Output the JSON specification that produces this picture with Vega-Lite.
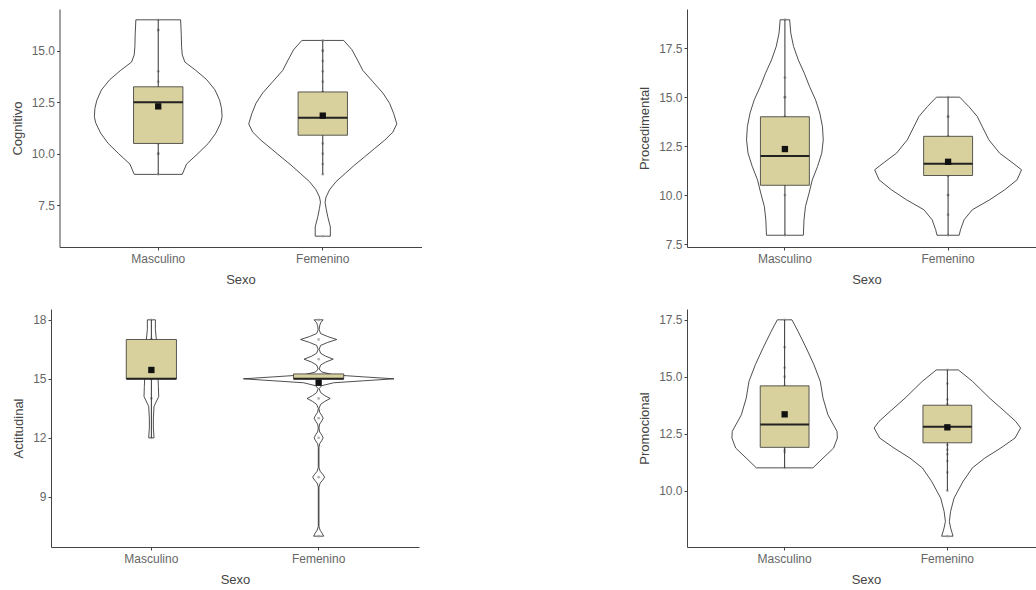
{
  "$schema": "https://vega.github.io/schema/vega-lite/v6.json",
  "padding": {"left": 11, "top": 9, "right": 0, "bottom": 0},
  "datasets": {
    "v_cog": [
      {"Sexo": "Masculino", "k": 0, "valor": 9.0, "densidad": 0},
      {"Sexo": "Masculino", "k": 1, "valor": 9.0, "densidad": 0.146},
      {"Sexo": "Masculino", "k": 2, "valor": 9.5, "densidad": 0.172},
      {"Sexo": "Masculino", "k": 3, "valor": 10.0, "densidad": 0.24},
      {"Sexo": "Masculino", "k": 4, "valor": 10.5, "densidad": 0.304},
      {"Sexo": "Masculino", "k": 5, "valor": 11.0, "densidad": 0.35},
      {"Sexo": "Masculino", "k": 6, "valor": 11.5, "densidad": 0.38},
      {"Sexo": "Masculino", "k": 7, "valor": 11.8, "densidad": 0.388},
      {"Sexo": "Masculino", "k": 8, "valor": 12.2, "densidad": 0.385},
      {"Sexo": "Masculino", "k": 9, "valor": 12.6, "densidad": 0.373},
      {"Sexo": "Masculino", "k": 10, "valor": 13.1, "densidad": 0.345},
      {"Sexo": "Masculino", "k": 11, "valor": 13.6, "densidad": 0.294},
      {"Sexo": "Masculino", "k": 12, "valor": 14.05, "densidad": 0.228},
      {"Sexo": "Masculino", "k": 13, "valor": 14.45, "densidad": 0.162},
      {"Sexo": "Masculino", "k": 14, "valor": 14.8, "densidad": 0.146},
      {"Sexo": "Masculino", "k": 15, "valor": 15.2, "densidad": 0.142},
      {"Sexo": "Masculino", "k": 16, "valor": 15.8, "densidad": 0.14},
      {"Sexo": "Masculino", "k": 17, "valor": 16.5, "densidad": 0.136},
      {"Sexo": "Masculino", "k": 18, "valor": 16.5, "densidad": 0},
      {"Sexo": "Femenino", "k": 0, "valor": 6.0, "densidad": 0},
      {"Sexo": "Femenino", "k": 1, "valor": 6.0, "densidad": 0.046},
      {"Sexo": "Femenino", "k": 2, "valor": 6.45, "densidad": 0.046},
      {"Sexo": "Femenino", "k": 3, "valor": 6.95, "densidad": 0.03},
      {"Sexo": "Femenino", "k": 4, "valor": 7.35, "densidad": 0.02},
      {"Sexo": "Femenino", "k": 5, "valor": 7.65, "densidad": 0.014},
      {"Sexo": "Femenino", "k": 6, "valor": 7.9, "densidad": 0.02},
      {"Sexo": "Femenino", "k": 7, "valor": 8.25, "densidad": 0.041},
      {"Sexo": "Femenino", "k": 8, "valor": 8.65, "densidad": 0.081},
      {"Sexo": "Femenino", "k": 9, "valor": 9.05, "densidad": 0.137},
      {"Sexo": "Femenino", "k": 10, "valor": 9.45, "densidad": 0.193},
      {"Sexo": "Femenino", "k": 11, "valor": 9.85, "densidad": 0.254},
      {"Sexo": "Femenino", "k": 12, "valor": 10.25, "densidad": 0.314},
      {"Sexo": "Femenino", "k": 13, "valor": 10.65, "densidad": 0.375},
      {"Sexo": "Femenino", "k": 14, "valor": 11.05, "densidad": 0.426},
      {"Sexo": "Femenino", "k": 15, "valor": 11.45, "densidad": 0.45},
      {"Sexo": "Femenino", "k": 16, "valor": 11.95, "densidad": 0.431},
      {"Sexo": "Femenino", "k": 17, "valor": 12.45, "densidad": 0.406},
      {"Sexo": "Femenino", "k": 18, "valor": 12.95, "densidad": 0.365},
      {"Sexo": "Femenino", "k": 19, "valor": 13.5, "densidad": 0.304},
      {"Sexo": "Femenino", "k": 20, "valor": 14.05, "densidad": 0.243},
      {"Sexo": "Femenino", "k": 21, "valor": 14.55, "densidad": 0.211},
      {"Sexo": "Femenino", "k": 22, "valor": 15.05, "densidad": 0.177},
      {"Sexo": "Femenino", "k": 23, "valor": 15.5, "densidad": 0.127},
      {"Sexo": "Femenino", "k": 24, "valor": 15.5, "densidad": 0}
    ],
    "b_cog": [
      {"Sexo": "Masculino", "inferior": 9.0, "q1": 10.5, "mediana": 12.5, "q3": 13.25, "superior": 16.5, "media": 12.3},
      {"Sexo": "Femenino", "inferior": 9.0, "q1": 10.9, "mediana": 11.75, "q3": 13.0, "superior": 15.5, "media": 11.85}
    ],
    "p_cog": [
      {"Sexo": "Masculino", "valor": 16.5}, {"Sexo": "Masculino", "valor": 16}, {"Sexo": "Masculino", "valor": 16},
      {"Sexo": "Masculino", "valor": 14}, {"Sexo": "Masculino", "valor": 13.5}, {"Sexo": "Masculino", "valor": 10.5},
      {"Sexo": "Masculino", "valor": 10}, {"Sexo": "Masculino", "valor": 10}, {"Sexo": "Masculino", "valor": 9},
      {"Sexo": "Femenino", "valor": 15.5}, {"Sexo": "Femenino", "valor": 15}, {"Sexo": "Femenino", "valor": 15},
      {"Sexo": "Femenino", "valor": 14.5}, {"Sexo": "Femenino", "valor": 14}, {"Sexo": "Femenino", "valor": 13.5},
      {"Sexo": "Femenino", "valor": 13}, {"Sexo": "Femenino", "valor": 10.5}, {"Sexo": "Femenino", "valor": 10},
      {"Sexo": "Femenino", "valor": 9.5}, {"Sexo": "Femenino", "valor": 9}, {"Sexo": "Femenino", "valor": 6}
    ],
    "v_proc": [
      {"Sexo": "Masculino", "k": 0, "valor": 7.95, "densidad": 0},
      {"Sexo": "Masculino", "k": 1, "valor": 7.95, "densidad": 0.113},
      {"Sexo": "Masculino", "k": 2, "valor": 8.74, "densidad": 0.117},
      {"Sexo": "Masculino", "k": 3, "valor": 9.42, "densidad": 0.126},
      {"Sexo": "Masculino", "k": 4, "valor": 10.1, "densidad": 0.148},
      {"Sexo": "Masculino", "k": 5, "valor": 10.78, "densidad": 0.168},
      {"Sexo": "Masculino", "k": 6, "valor": 11.46, "densidad": 0.2},
      {"Sexo": "Masculino", "k": 7, "valor": 12.14, "densidad": 0.226},
      {"Sexo": "Masculino", "k": 8, "valor": 12.82, "densidad": 0.235},
      {"Sexo": "Masculino", "k": 9, "valor": 13.5, "densidad": 0.23},
      {"Sexo": "Masculino", "k": 10, "valor": 14.18, "densidad": 0.214},
      {"Sexo": "Masculino", "k": 11, "valor": 14.86, "densidad": 0.188},
      {"Sexo": "Masculino", "k": 12, "valor": 15.54, "densidad": 0.151},
      {"Sexo": "Masculino", "k": 13, "valor": 16.22, "densidad": 0.119},
      {"Sexo": "Masculino", "k": 14, "valor": 16.9, "densidad": 0.082},
      {"Sexo": "Masculino", "k": 15, "valor": 17.59, "densidad": 0.053},
      {"Sexo": "Masculino", "k": 16, "valor": 18.27, "densidad": 0.036},
      {"Sexo": "Masculino", "k": 17, "valor": 18.95, "densidad": 0.029},
      {"Sexo": "Masculino", "k": 18, "valor": 18.95, "densidad": 0},
      {"Sexo": "Femenino", "k": 0, "valor": 7.95, "densidad": 0},
      {"Sexo": "Femenino", "k": 1, "valor": 7.95, "densidad": 0.068},
      {"Sexo": "Femenino", "k": 2, "valor": 8.23, "densidad": 0.076},
      {"Sexo": "Femenino", "k": 3, "valor": 8.74, "densidad": 0.098},
      {"Sexo": "Femenino", "k": 4, "valor": 9.25, "densidad": 0.148},
      {"Sexo": "Femenino", "k": 5, "valor": 9.76, "densidad": 0.255},
      {"Sexo": "Femenino", "k": 6, "valor": 10.27, "densidad": 0.347},
      {"Sexo": "Femenino", "k": 7, "valor": 10.78, "densidad": 0.423},
      {"Sexo": "Femenino", "k": 8, "valor": 11.29, "densidad": 0.45},
      {"Sexo": "Femenino", "k": 9, "valor": 11.63, "densidad": 0.398},
      {"Sexo": "Femenino", "k": 10, "valor": 12.14, "densidad": 0.316},
      {"Sexo": "Femenino", "k": 11, "valor": 12.82, "densidad": 0.25},
      {"Sexo": "Femenino", "k": 12, "valor": 13.5, "densidad": 0.209},
      {"Sexo": "Femenino", "k": 13, "valor": 14.01, "densidad": 0.179},
      {"Sexo": "Femenino", "k": 14, "valor": 14.52, "densidad": 0.127},
      {"Sexo": "Femenino", "k": 15, "valor": 15.0, "densidad": 0.071},
      {"Sexo": "Femenino", "k": 16, "valor": 15.0, "densidad": 0}
    ],
    "b_proc": [
      {"Sexo": "Masculino", "inferior": 7.95, "q1": 10.5, "mediana": 12.0, "q3": 14.0, "superior": 18.95, "media": 12.35},
      {"Sexo": "Femenino", "inferior": 7.95, "q1": 11.0, "mediana": 11.6, "q3": 13.0, "superior": 15.0, "media": 11.7}
    ],
    "p_proc": [
      {"Sexo": "Masculino", "valor": 18.95}, {"Sexo": "Masculino", "valor": 16}, {"Sexo": "Masculino", "valor": 15},
      {"Sexo": "Masculino", "valor": 15}, {"Sexo": "Masculino", "valor": 14}, {"Sexo": "Masculino", "valor": 10},
      {"Sexo": "Masculino", "valor": 7.95},
      {"Sexo": "Femenino", "valor": 15}, {"Sexo": "Femenino", "valor": 14}, {"Sexo": "Femenino", "valor": 14},
      {"Sexo": "Femenino", "valor": 13}, {"Sexo": "Femenino", "valor": 11}, {"Sexo": "Femenino", "valor": 11},
      {"Sexo": "Femenino", "valor": 10}, {"Sexo": "Femenino", "valor": 10}, {"Sexo": "Femenino", "valor": 9},
      {"Sexo": "Femenino", "valor": 7.95}
    ],
    "v_act": [
      {"Sexo": "Masculino", "k": 0, "valor": 12.0, "densidad": 0},
      {"Sexo": "Masculino", "k": 1, "valor": 12.0, "densidad": 0.016},
      {"Sexo": "Masculino", "k": 2, "valor": 12.5, "densidad": 0.012},
      {"Sexo": "Masculino", "k": 3, "valor": 13.0, "densidad": 0.012},
      {"Sexo": "Masculino", "k": 4, "valor": 13.6, "densidad": 0.016},
      {"Sexo": "Masculino", "k": 5, "valor": 14.1, "densidad": 0.044},
      {"Sexo": "Masculino", "k": 6, "valor": 14.6, "densidad": 0.042},
      {"Sexo": "Masculino", "k": 7, "valor": 15.0, "densidad": 0.04},
      {"Sexo": "Masculino", "k": 8, "valor": 16.0, "densidad": 0.035},
      {"Sexo": "Masculino", "k": 9, "valor": 17.0, "densidad": 0.03},
      {"Sexo": "Masculino", "k": 10, "valor": 17.5, "densidad": 0.024},
      {"Sexo": "Masculino", "k": 11, "valor": 18.0, "densidad": 0.024},
      {"Sexo": "Masculino", "k": 12, "valor": 18.0, "densidad": 0},
      {"Sexo": "Femenino", "k": 0, "valor": 7.0, "densidad": 0},
      {"Sexo": "Femenino", "k": 1, "valor": 7.0, "densidad": 0.03},
      {"Sexo": "Femenino", "k": 2, "valor": 7.15, "densidad": 0.021},
      {"Sexo": "Femenino", "k": 3, "valor": 7.3, "densidad": 0.009},
      {"Sexo": "Femenino", "k": 4, "valor": 7.5, "densidad": 0.002},
      {"Sexo": "Femenino", "k": 5, "valor": 9.5, "densidad": 0.002},
      {"Sexo": "Femenino", "k": 6, "valor": 9.7, "densidad": 0.009},
      {"Sexo": "Femenino", "k": 7, "valor": 9.85, "densidad": 0.024},
      {"Sexo": "Femenino", "k": 8, "valor": 10.0, "densidad": 0.036},
      {"Sexo": "Femenino", "k": 9, "valor": 10.15, "densidad": 0.024},
      {"Sexo": "Femenino", "k": 10, "valor": 10.3, "densidad": 0.009},
      {"Sexo": "Femenino", "k": 11, "valor": 10.5, "densidad": 0.002},
      {"Sexo": "Femenino", "k": 12, "valor": 11.5, "densidad": 0.002},
      {"Sexo": "Femenino", "k": 13, "valor": 11.7, "densidad": 0.006},
      {"Sexo": "Femenino", "k": 14, "valor": 11.85, "densidad": 0.018},
      {"Sexo": "Femenino", "k": 15, "valor": 12.0, "densidad": 0.027},
      {"Sexo": "Femenino", "k": 16, "valor": 12.15, "densidad": 0.018},
      {"Sexo": "Femenino", "k": 17, "valor": 12.3, "densidad": 0.006},
      {"Sexo": "Femenino", "k": 18, "valor": 12.5, "densidad": 0.002},
      {"Sexo": "Femenino", "k": 19, "valor": 12.7, "densidad": 0.006},
      {"Sexo": "Femenino", "k": 20, "valor": 12.85, "densidad": 0.018},
      {"Sexo": "Femenino", "k": 21, "valor": 13.0, "densidad": 0.027},
      {"Sexo": "Femenino", "k": 22, "valor": 13.15, "densidad": 0.018},
      {"Sexo": "Femenino", "k": 23, "valor": 13.3, "densidad": 0.006},
      {"Sexo": "Femenino", "k": 24, "valor": 13.5, "densidad": 0.002},
      {"Sexo": "Femenino", "k": 25, "valor": 13.7, "densidad": 0.012},
      {"Sexo": "Femenino", "k": 26, "valor": 13.85, "densidad": 0.036},
      {"Sexo": "Femenino", "k": 27, "valor": 14.0, "densidad": 0.069},
      {"Sexo": "Femenino", "k": 28, "valor": 14.15, "densidad": 0.036},
      {"Sexo": "Femenino", "k": 29, "valor": 14.3, "densidad": 0.012},
      {"Sexo": "Femenino", "k": 30, "valor": 14.5, "densidad": 0.003},
      {"Sexo": "Femenino", "k": 31, "valor": 14.65, "densidad": 0.018},
      {"Sexo": "Femenino", "k": 32, "valor": 14.8, "densidad": 0.09},
      {"Sexo": "Femenino", "k": 33, "valor": 14.9, "densidad": 0.269},
      {"Sexo": "Femenino", "k": 34, "valor": 15.0, "densidad": 0.45},
      {"Sexo": "Femenino", "k": 35, "valor": 15.1, "densidad": 0.269},
      {"Sexo": "Femenino", "k": 36, "valor": 15.2, "densidad": 0.09},
      {"Sexo": "Femenino", "k": 37, "valor": 15.35, "densidad": 0.018},
      {"Sexo": "Femenino", "k": 38, "valor": 15.5, "densidad": 0.003},
      {"Sexo": "Femenino", "k": 39, "valor": 15.7, "densidad": 0.012},
      {"Sexo": "Femenino", "k": 40, "valor": 15.85, "densidad": 0.042},
      {"Sexo": "Femenino", "k": 41, "valor": 16.0, "densidad": 0.087},
      {"Sexo": "Femenino", "k": 42, "valor": 16.15, "densidad": 0.042},
      {"Sexo": "Femenino", "k": 43, "valor": 16.3, "densidad": 0.012},
      {"Sexo": "Femenino", "k": 44, "valor": 16.5, "densidad": 0.003},
      {"Sexo": "Femenino", "k": 45, "valor": 16.7, "densidad": 0.012},
      {"Sexo": "Femenino", "k": 46, "valor": 16.85, "densidad": 0.054},
      {"Sexo": "Femenino", "k": 47, "valor": 17.0, "densidad": 0.108},
      {"Sexo": "Femenino", "k": 48, "valor": 17.15, "densidad": 0.054},
      {"Sexo": "Femenino", "k": 49, "valor": 17.3, "densidad": 0.012},
      {"Sexo": "Femenino", "k": 50, "valor": 17.5, "densidad": 0.003},
      {"Sexo": "Femenino", "k": 51, "valor": 17.7, "densidad": 0.006},
      {"Sexo": "Femenino", "k": 52, "valor": 17.85, "densidad": 0.012},
      {"Sexo": "Femenino", "k": 53, "valor": 18.0, "densidad": 0.027},
      {"Sexo": "Femenino", "k": 54, "valor": 18.0, "densidad": 0}
    ],
    "b_act": [
      {"Sexo": "Masculino", "inferior": 12.0, "q1": 15.0, "mediana": 15.0, "q3": 17.0, "superior": 18.0, "media": 15.45},
      {"Sexo": "Femenino", "inferior": 15.0, "q1": 15.0, "mediana": 15.0, "q3": 15.25, "superior": 15.25, "media": 14.8}
    ],
    "p_act": [
      {"Sexo": "Masculino", "valor": 18}, {"Sexo": "Masculino", "valor": 17}, {"Sexo": "Masculino", "valor": 17},
      {"Sexo": "Masculino", "valor": 15}, {"Sexo": "Masculino", "valor": 15}, {"Sexo": "Masculino", "valor": 14},
      {"Sexo": "Masculino", "valor": 12},
      {"Sexo": "Femenino", "valor": 18}, {"Sexo": "Femenino", "valor": 17}, {"Sexo": "Femenino", "valor": 16},
      {"Sexo": "Femenino", "valor": 15}, {"Sexo": "Femenino", "valor": 15}, {"Sexo": "Femenino", "valor": 14},
      {"Sexo": "Femenino", "valor": 13}, {"Sexo": "Femenino", "valor": 12}, {"Sexo": "Femenino", "valor": 10},
      {"Sexo": "Femenino", "valor": 7}
    ],
    "v_prom": [
      {"Sexo": "Masculino", "k": 0, "valor": 11.0, "densidad": 0},
      {"Sexo": "Masculino", "k": 1, "valor": 11.0, "densidad": 0.174},
      {"Sexo": "Masculino", "k": 2, "valor": 11.43, "densidad": 0.236},
      {"Sexo": "Masculino", "k": 3, "valor": 11.87, "densidad": 0.301},
      {"Sexo": "Masculino", "k": 4, "valor": 12.31, "densidad": 0.324},
      {"Sexo": "Masculino", "k": 5, "valor": 12.6, "densidad": 0.322},
      {"Sexo": "Masculino", "k": 6, "valor": 13.33, "densidad": 0.266},
      {"Sexo": "Masculino", "k": 7, "valor": 14.06, "densidad": 0.236},
      {"Sexo": "Masculino", "k": 8, "valor": 14.8, "densidad": 0.219},
      {"Sexo": "Masculino", "k": 9, "valor": 15.53, "densidad": 0.18},
      {"Sexo": "Masculino", "k": 10, "valor": 16.26, "densidad": 0.133},
      {"Sexo": "Masculino", "k": 11, "valor": 17.0, "densidad": 0.082},
      {"Sexo": "Masculino", "k": 12, "valor": 17.5, "densidad": 0.045},
      {"Sexo": "Masculino", "k": 13, "valor": 17.5, "densidad": 0},
      {"Sexo": "Femenino", "k": 0, "valor": 8.0, "densidad": 0},
      {"Sexo": "Femenino", "k": 1, "valor": 8.0, "densidad": 0.035},
      {"Sexo": "Femenino", "k": 2, "valor": 8.36, "densidad": 0.02},
      {"Sexo": "Femenino", "k": 3, "valor": 8.65, "densidad": 0.012},
      {"Sexo": "Femenino", "k": 4, "valor": 9.09, "densidad": 0.02},
      {"Sexo": "Femenino", "k": 5, "valor": 9.67, "densidad": 0.041},
      {"Sexo": "Femenino", "k": 6, "valor": 10.4, "densidad": 0.096},
      {"Sexo": "Femenino", "k": 7, "valor": 11.0, "densidad": 0.154},
      {"Sexo": "Femenino", "k": 8, "valor": 11.43, "densidad": 0.23},
      {"Sexo": "Femenino", "k": 9, "valor": 11.87, "densidad": 0.328},
      {"Sexo": "Femenino", "k": 10, "valor": 12.31, "densidad": 0.416},
      {"Sexo": "Femenino", "k": 11, "valor": 12.75, "densidad": 0.45},
      {"Sexo": "Femenino", "k": 12, "valor": 13.04, "densidad": 0.42},
      {"Sexo": "Femenino", "k": 13, "valor": 13.48, "densidad": 0.352},
      {"Sexo": "Femenino", "k": 14, "valor": 14.06, "densidad": 0.26},
      {"Sexo": "Femenino", "k": 15, "valor": 14.8, "densidad": 0.154},
      {"Sexo": "Femenino", "k": 16, "valor": 15.3, "densidad": 0.068},
      {"Sexo": "Femenino", "k": 17, "valor": 15.3, "densidad": 0}
    ],
    "b_prom": [
      {"Sexo": "Masculino", "inferior": 11.0, "q1": 11.9, "mediana": 12.9, "q3": 14.6, "superior": 17.5, "media": 13.35},
      {"Sexo": "Femenino", "inferior": 10.0, "q1": 12.1, "mediana": 12.8, "q3": 13.75, "superior": 15.3, "media": 12.78}
    ],
    "p_prom": [
      {"Sexo": "Masculino", "valor": 17.5}, {"Sexo": "Masculino", "valor": 16.3}, {"Sexo": "Masculino", "valor": 15.4},
      {"Sexo": "Masculino", "valor": 15}, {"Sexo": "Masculino", "valor": 14.6}, {"Sexo": "Masculino", "valor": 11.8},
      {"Sexo": "Masculino", "valor": 11.7}, {"Sexo": "Masculino", "valor": 11},
      {"Sexo": "Femenino", "valor": 15.3}, {"Sexo": "Femenino", "valor": 14.7}, {"Sexo": "Femenino", "valor": 14},
      {"Sexo": "Femenino", "valor": 13.8}, {"Sexo": "Femenino", "valor": 12}, {"Sexo": "Femenino", "valor": 11.8},
      {"Sexo": "Femenino", "valor": 11.6}, {"Sexo": "Femenino", "valor": 11.3}, {"Sexo": "Femenino", "valor": 10.8},
      {"Sexo": "Femenino", "valor": 10}, {"Sexo": "Femenino", "valor": 8}
    ]
  },
  "columns": 2,
  "spacing": {"row": 23, "column": 216},
  "concat": [
    {
      "width": 370.5, "height": 238,
      "resolve": {"scale": {"xOffset": "independent"}},
      "encoding": {"x": {"field": "Sexo", "type": "nominal", "title": "Sexo", "sort": ["Masculino", "Femenino"], "scale": {"type": "band", "domain": ["Masculino", "Femenino"], "paddingInner": 0, "paddingOuter": 0.1, "range": [8.5, 370.5]}, "axis": {"bandPosition": 0.5}}},
      "layer": [
        {"data": {"name": "v_cog"}, "mark": {"type": "line", "color": "#222", "strokeWidth": 0.8},
         "encoding": {"y": {"field": "valor", "type": "quantitative", "title": "Cognitivo", "scale": {"domain": [5.475, 17.025], "nice": false, "zero": false}, "axis": {"values": [7.5, 10, 12.5, 15], "format": ".1f", "offset": -8.5}},
          "xOffset": {"field": "densidad", "type": "quantitative", "scale": {"domain": [-0.5, 0.5]}}, "detail": {"field": "Sexo"}, "order": {"field": "k", "type": "quantitative"}}},
        {"data": {"name": "v_cog"}, "mark": {"type": "line", "color": "#222", "strokeWidth": 0.8},
         "encoding": {"y": {"field": "valor", "type": "quantitative", "title": "Cognitivo"},
          "xOffset": {"field": "densidad", "type": "quantitative", "scale": {"domain": [-0.5, 0.5], "reverse": true}}, "detail": {"field": "Sexo"}, "order": {"field": "k", "type": "quantitative"}}},
        {"data": {"name": "p_cog"}, "mark": {"type": "point", "filled": true, "size": 8, "color": "#999", "opacity": 0.7},
         "encoding": {"y": {"field": "valor", "type": "quantitative", "title": "Cognitivo"}}},
        {"data": {"name": "b_cog"}, "mark": {"type": "rule", "color": "#333", "strokeWidth": 1},
         "encoding": {"y": {"field": "inferior", "type": "quantitative", "title": "Cognitivo"}, "y2": {"field": "superior"}}},
        {"data": {"name": "b_cog"}, "mark": {"type": "bar", "fill": "#d8d19d", "stroke": "#333", "strokeWidth": 0.8, "width": {"band": 0.3}},
         "encoding": {"y": {"field": "q1", "type": "quantitative", "title": "Cognitivo"}, "y2": {"field": "q3"}}},
        {"data": {"name": "b_cog"}, "mark": {"type": "bar", "fill": null, "stroke": "#222", "strokeWidth": 2, "width": {"band": 0.3}},
         "encoding": {"y": {"field": "mediana", "type": "quantitative", "title": "Cognitivo"}, "y2": {"field": "mediana"}}},
        {"data": {"name": "b_cog"}, "mark": {"type": "point", "shape": "square", "filled": true, "size": 40, "color": "#111", "opacity": 1},
         "encoding": {"y": {"field": "media", "type": "quantitative", "title": "Cognitivo"}}}
      ]
    },
    {
      "width": 359, "height": 238,
      "resolve": {"scale": {"xOffset": "independent"}},
      "encoding": {"x": {"field": "Sexo", "type": "nominal", "title": "Sexo", "sort": ["Masculino", "Femenino"], "scale": {"type": "band", "domain": ["Masculino", "Femenino"], "paddingInner": 0, "paddingOuter": 0.1}, "axis": {"bandPosition": 0.5}}},
      "layer": [
        {"data": {"name": "v_proc"}, "mark": {"type": "line", "color": "#222", "strokeWidth": 0.8},
         "encoding": {"y": {"field": "valor", "type": "quantitative", "title": "Procedimental", "scale": {"domain": [7.35, 19.5], "nice": false, "zero": false}, "axis": {"values": [7.5, 10, 12.5, 15, 17.5], "format": ".1f"}},
          "xOffset": {"field": "densidad", "type": "quantitative", "scale": {"domain": [-0.5, 0.5]}}, "detail": {"field": "Sexo"}, "order": {"field": "k", "type": "quantitative"}}},
        {"data": {"name": "v_proc"}, "mark": {"type": "line", "color": "#222", "strokeWidth": 0.8},
         "encoding": {"y": {"field": "valor", "type": "quantitative", "title": "Procedimental"},
          "xOffset": {"field": "densidad", "type": "quantitative", "scale": {"domain": [-0.5, 0.5], "reverse": true}}, "detail": {"field": "Sexo"}, "order": {"field": "k", "type": "quantitative"}}},
        {"data": {"name": "p_proc"}, "mark": {"type": "point", "filled": true, "size": 8, "color": "#999", "opacity": 0.7},
         "encoding": {"y": {"field": "valor", "type": "quantitative", "title": "Procedimental"}}},
        {"data": {"name": "b_proc"}, "mark": {"type": "rule", "color": "#333", "strokeWidth": 1},
         "encoding": {"y": {"field": "inferior", "type": "quantitative", "title": "Procedimental"}, "y2": {"field": "superior"}}},
        {"data": {"name": "b_proc"}, "mark": {"type": "bar", "fill": "#d8d19d", "stroke": "#333", "strokeWidth": 0.8, "width": {"band": 0.3}},
         "encoding": {"y": {"field": "q1", "type": "quantitative", "title": "Procedimental"}, "y2": {"field": "q3"}}},
        {"data": {"name": "b_proc"}, "mark": {"type": "bar", "fill": null, "stroke": "#222", "strokeWidth": 2, "width": {"band": 0.3}},
         "encoding": {"y": {"field": "mediana", "type": "quantitative", "title": "Procedimental"}, "y2": {"field": "mediana"}}},
        {"data": {"name": "b_proc"}, "mark": {"type": "point", "shape": "square", "filled": true, "size": 40, "color": "#111", "opacity": 1},
         "encoding": {"y": {"field": "media", "type": "quantitative", "title": "Procedimental"}}}
      ]
    },
    {
      "width": 368, "height": 238,
      "resolve": {"scale": {"xOffset": "independent"}},
      "encoding": {"x": {"field": "Sexo", "type": "nominal", "title": "Sexo", "sort": ["Masculino", "Femenino"], "scale": {"type": "band", "domain": ["Masculino", "Femenino"], "paddingInner": 0, "paddingOuter": 0.1}, "axis": {"bandPosition": 0.5}}},
      "layer": [
        {"data": {"name": "v_act"}, "mark": {"type": "line", "color": "#222", "strokeWidth": 0.8},
         "encoding": {"y": {"field": "valor", "type": "quantitative", "title": "Actitudinal", "scale": {"domain": [6.45, 18.55], "nice": false, "zero": false}, "axis": {"values": [9, 12, 15, 18], "format": "d"}},
          "xOffset": {"field": "densidad", "type": "quantitative", "scale": {"domain": [-0.5, 0.5]}}, "detail": {"field": "Sexo"}, "order": {"field": "k", "type": "quantitative"}}},
        {"data": {"name": "v_act"}, "mark": {"type": "line", "color": "#222", "strokeWidth": 0.8},
         "encoding": {"y": {"field": "valor", "type": "quantitative", "title": "Actitudinal"},
          "xOffset": {"field": "densidad", "type": "quantitative", "scale": {"domain": [-0.5, 0.5], "reverse": true}}, "detail": {"field": "Sexo"}, "order": {"field": "k", "type": "quantitative"}}},
        {"data": {"name": "p_act"}, "mark": {"type": "point", "filled": true, "size": 8, "color": "#999", "opacity": 0.7},
         "encoding": {"y": {"field": "valor", "type": "quantitative", "title": "Actitudinal"}}},
        {"data": {"name": "b_act"}, "mark": {"type": "rule", "color": "#333", "strokeWidth": 1},
         "encoding": {"y": {"field": "inferior", "type": "quantitative", "title": "Actitudinal"}, "y2": {"field": "superior"}}},
        {"data": {"name": "b_act"}, "mark": {"type": "bar", "fill": "#d8d19d", "stroke": "#333", "strokeWidth": 0.8, "width": {"band": 0.3}},
         "encoding": {"y": {"field": "q1", "type": "quantitative", "title": "Actitudinal"}, "y2": {"field": "q3"}}},
        {"data": {"name": "b_act"}, "mark": {"type": "bar", "fill": null, "stroke": "#222", "strokeWidth": 2, "width": {"band": 0.3}},
         "encoding": {"y": {"field": "mediana", "type": "quantitative", "title": "Actitudinal"}, "y2": {"field": "mediana"}}},
        {"data": {"name": "b_act"}, "mark": {"type": "point", "shape": "square", "filled": true, "size": 40, "color": "#111", "opacity": 1},
         "encoding": {"y": {"field": "media", "type": "quantitative", "title": "Actitudinal"}}}
      ]
    },
    {
      "width": 358, "height": 238,
      "resolve": {"scale": {"xOffset": "independent"}},
      "encoding": {"x": {"field": "Sexo", "type": "nominal", "title": "Sexo", "sort": ["Masculino", "Femenino"], "scale": {"type": "band", "domain": ["Masculino", "Femenino"], "paddingInner": 0, "paddingOuter": 0.1}, "axis": {"bandPosition": 0.5}}},
      "layer": [
        {"data": {"name": "v_prom"}, "mark": {"type": "line", "color": "#222", "strokeWidth": 0.8},
         "encoding": {"y": {"field": "valor", "type": "quantitative", "title": "Promocional", "scale": {"domain": [7.525, 17.975], "nice": false, "zero": false}, "axis": {"values": [10, 12.5, 15, 17.5], "format": ".1f"}},
          "xOffset": {"field": "densidad", "type": "quantitative", "scale": {"domain": [-0.5, 0.5]}}, "detail": {"field": "Sexo"}, "order": {"field": "k", "type": "quantitative"}}},
        {"data": {"name": "v_prom"}, "mark": {"type": "line", "color": "#222", "strokeWidth": 0.8},
         "encoding": {"y": {"field": "valor", "type": "quantitative", "title": "Promocional"},
          "xOffset": {"field": "densidad", "type": "quantitative", "scale": {"domain": [-0.5, 0.5], "reverse": true}}, "detail": {"field": "Sexo"}, "order": {"field": "k", "type": "quantitative"}}},
        {"data": {"name": "p_prom"}, "mark": {"type": "point", "filled": true, "size": 8, "color": "#999", "opacity": 0.7},
         "encoding": {"y": {"field": "valor", "type": "quantitative", "title": "Promocional"}}},
        {"data": {"name": "b_prom"}, "mark": {"type": "rule", "color": "#333", "strokeWidth": 1},
         "encoding": {"y": {"field": "inferior", "type": "quantitative", "title": "Promocional"}, "y2": {"field": "superior"}}},
        {"data": {"name": "b_prom"}, "mark": {"type": "bar", "fill": "#d8d19d", "stroke": "#333", "strokeWidth": 0.8, "width": {"band": 0.3}},
         "encoding": {"y": {"field": "q1", "type": "quantitative", "title": "Promocional"}, "y2": {"field": "q3"}}},
        {"data": {"name": "b_prom"}, "mark": {"type": "bar", "fill": null, "stroke": "#222", "strokeWidth": 2, "width": {"band": 0.3}},
         "encoding": {"y": {"field": "mediana", "type": "quantitative", "title": "Promocional"}, "y2": {"field": "mediana"}}},
        {"data": {"name": "b_prom"}, "mark": {"type": "point", "shape": "square", "filled": true, "size": 40, "color": "#111", "opacity": 1},
         "encoding": {"y": {"field": "media", "type": "quantitative", "title": "Promocional"}}}
      ]
    }
  ],
  "config": {
    "view": {"stroke": null},
    "font": "Liberation Sans",
    "axis": {"grid": false, "domainColor": "#444", "domainWidth": 1, "tickColor": "#444", "tickSize": 3, "labelColor": "#666", "labelFontSize": 12, "labelPadding": 2, "titleColor": "#444", "titleFontSize": 13, "titleFontWeight": "normal"},
    "axisX": {"labelPadding": 3, "titlePadding": 9, "labelAngle": 0},
    "axisY": {"titlePadding": 7}
  }
}
